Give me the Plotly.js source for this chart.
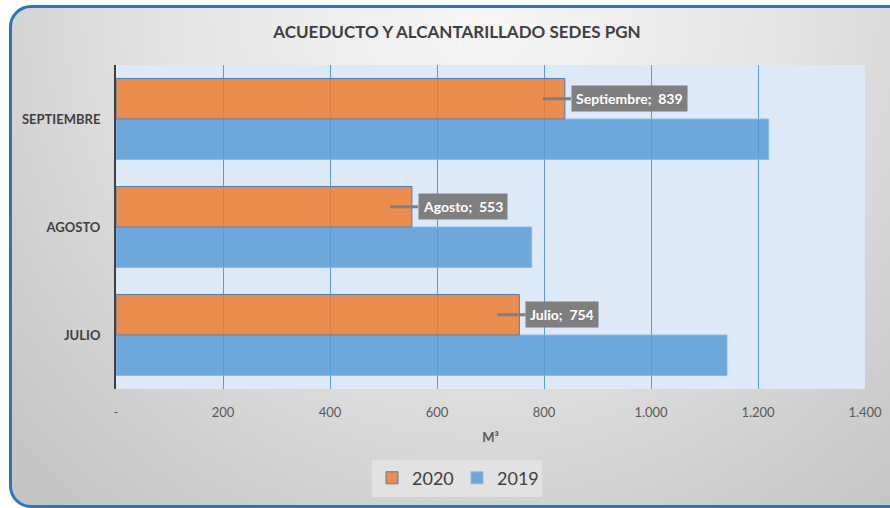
<!DOCTYPE html>
<html>
<head>
<meta charset="utf-8">
<script src="https://cdn.plot.ly/plotly-3.0.1.min.js"></script>
<style>
  html, body { margin:0; padding:0; width:890px; height:508px; overflow:hidden; background:#ffffff; }
  #frame { position:absolute; left:9px; top:5px; width:900px; height:497px;
    border:3px solid #2e75b6; border-radius:22px;
    background: radial-gradient(ellipse 75% 140% at 52% 0%, #f7f7f7 0%, #e4e4e4 45%, #cdcdcd 80%, #c2c2c2 100%); }
  #chart { position:absolute; left:0; top:0; width:890px; height:508px; }
</style>
</head>
<body>
<div id="frame"></div>
<div id="chart"></div>
<script>
const categories = ['JULIO', 'AGOSTO', 'SEPTIEMBRE'];
const labelNames = ['Julio', 'Agosto', 'Septiembre'];
const values2020 = [754, 553, 839];
const values2019 = [1142, 777, 1220];
const tickValues = [0, 200, 400, 600, 800, 1000, 1200, 1400];
const tickLabels = ['-', '200', '400', '600', '800', '1.000', '1.200', '1.400'];

const FONT = 'Lato, "Open Sans", sans-serif';

const trace2019 = {
  type: 'bar', orientation: 'h', name: '2019',
  y: categories, x: values2019,
  marker: { color: 'rgba(91,155,213,0.85)', line: { color: 'rgba(140,185,225,0.9)', width: 1 } },
  hoverinfo: 'skip'
};
const trace2020 = {
  type: 'bar', orientation: 'h', name: '2020',
  y: categories, x: values2020,
  marker: { color: 'rgba(237,125,49,0.85)', line: { color: '#4f7fb5', width: 1 } },
  hoverinfo: 'skip'
};

const annotations = values2020.map((v, i) => ({
  x: v - 41, y: i + 0.1875, xref: 'x', yref: 'y',
  text: '<b>' + labelNames[i] + ';  ' + v + '</b>',
  showarrow: true, arrowhead: 0, arrowwidth: 3, arrowcolor: '#7f7f7f',
  ax: 28, ay: 0, xanchor: 'left', yanchor: 'middle',
  bgcolor: '#7f7f7f', borderpad: 4,
  font: { family: FONT, size: 14, color: '#ffffff' }
}));

const layout = {
  width: 890, height: 508,
  paper_bgcolor: 'rgba(0,0,0,0)',
  plot_bgcolor: '#dde9f6',
  margin: { l: 116, r: 25, t: 65, b: 116 },
  font: { family: FONT, color: '#404040' },
  title: {
    text: '<b>ACUEDUCTO Y ALCANTARILLADO SEDES PGN</b>',
    x: 457/890, xanchor: 'center', y: 1 - 32/508, yanchor: 'middle',
    xref: 'container', yref: 'container',
    font: { family: FONT, size: 17, color: '#404040' }
  },
  barmode: 'group',
  bargap: 0.25, bargroupgap: 0,
  xaxis: {
    range: [0, 1400],
    tickvals: tickValues, ticktext: tickLabels,
    showgrid: true, gridcolor: '#5b9bd5', gridwidth: 1,
    zeroline: false, showline: false,
    ticks: 'outside', ticklen: 11, tickcolor: 'rgba(0,0,0,0)',
    tickfont: { family: FONT, size: 13, color: '#595959' },
    title: { text: '<b>M³</b>', standoff: 14, font: { family: FONT, size: 13, color: '#595959' } },
    fixedrange: true
  },
  yaxis: {
    type: 'category', categoryorder: 'array', categoryarray: categories,
    range: [-0.5, 2.5],
    showgrid: false, zeroline: false,
    showline: true, linecolor: '#404040', linewidth: 2,
    ticks: 'outside', ticklen: 11, tickcolor: 'rgba(0,0,0,0)',
    tickfont: { family: FONT, size: 13, color: '#404040', weight: 'bold' },
    fixedrange: true
  },
  showlegend: true,
  legend: {
    orientation: 'h', traceorder: 'reversed',
    x: (457 - 116) / 749, xanchor: 'center', y: -0.275, yanchor: 'middle',
    bgcolor: '#e2e2e2', borderwidth: 0,
    font: { family: FONT, size: 18, color: '#404040' },
    itemwidth: 30, entrywidth: 40
  },
  annotations: annotations
};

Plotly.newPlot('chart', [trace2019, trace2020], layout, { displayModeBar: false, staticPlot: true });
</script>
</body>
</html>
